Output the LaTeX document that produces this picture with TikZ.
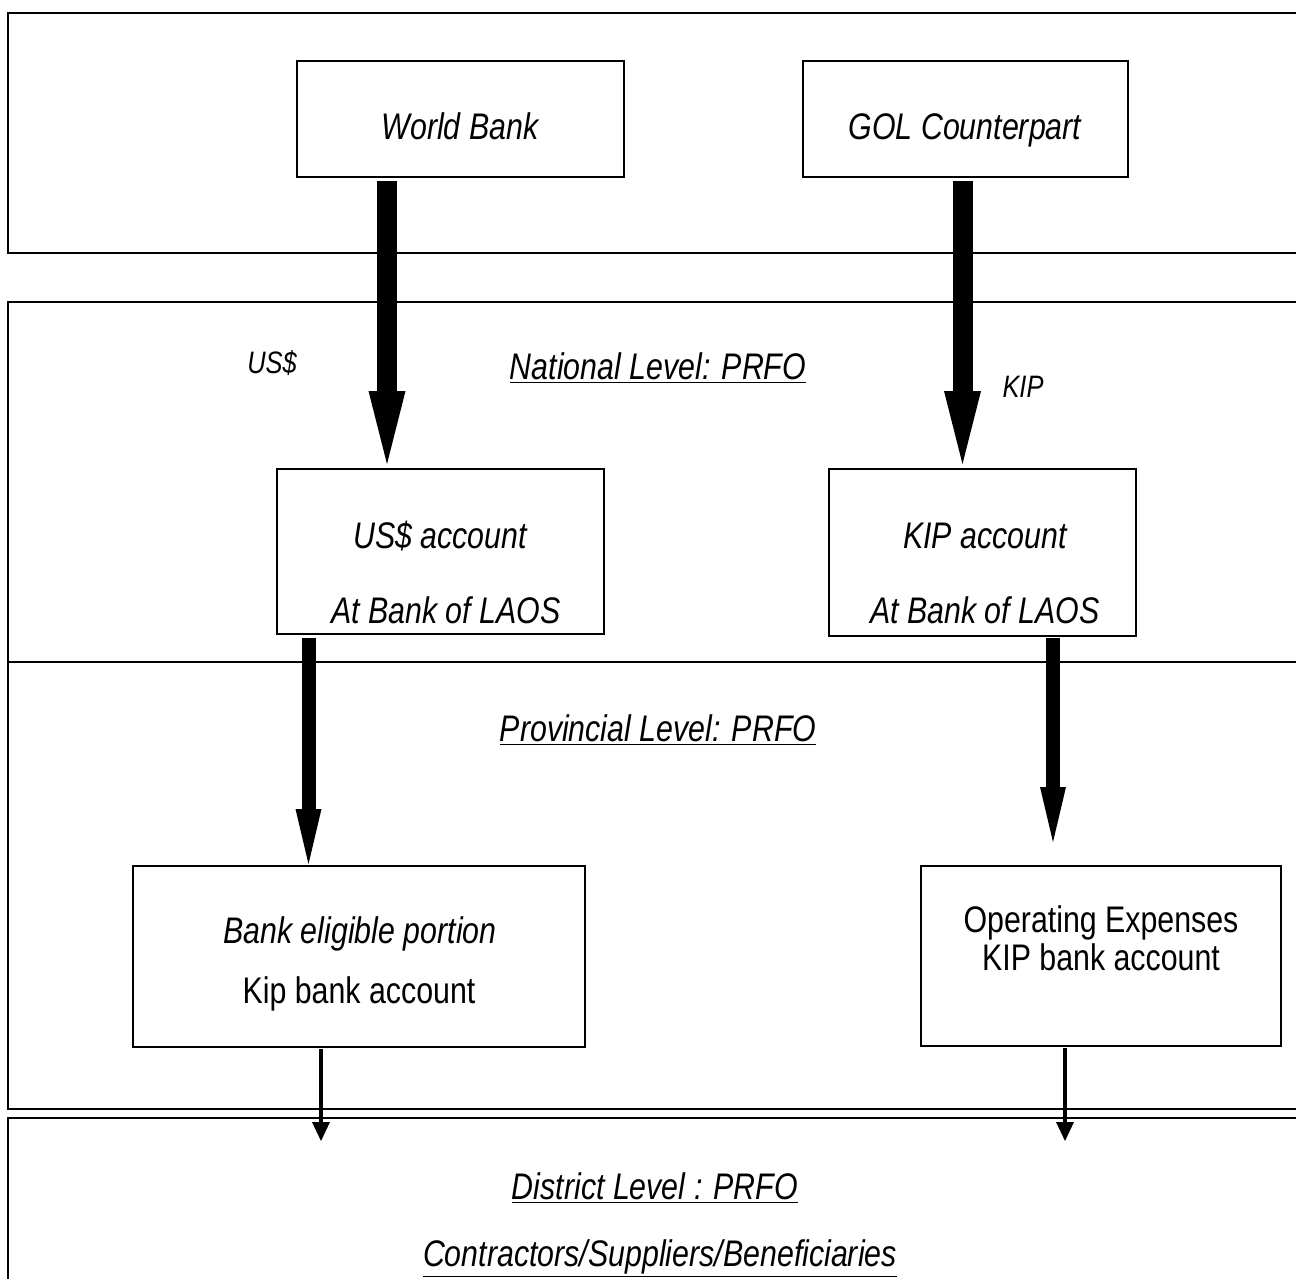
\documentclass[tikz,border=0pt]{standalone}
\usepackage{fontspec}
\setmainfont{Liberation Sans}[FakeStretch=0.82]
\usetikzlibrary{arrows.meta,calc}
\begin{document}
\begin{tikzpicture}[x=0.5pt,y=-0.5pt,
	frame/.style={draw=black, line width=1.3pt},
	acct/.style={draw=black, line width=1pt, rectangle, inner sep=0pt},
	lbl/.style={font=\fontsize{18.5}{21}\selectfont\itshape, anchor=base, inner sep=0pt},
	plain/.style={font=\fontsize{18.5}{21}\selectfont, anchor=base, inner sep=0pt},
	small/.style={font=\fontsize{15.5}{18}\selectfont\itshape, anchor=base, inner sep=0pt},
	bigflow/.style={line width=10pt, -{Triangle[length=36.5pt, width=18.5pt, line width=0pt]}},
	midflow/.style={line width=7pt, -{Triangle[length=27.5pt, width=13pt, line width=0pt]}},
	thinflow/.style={line width=2pt, -{Triangle[length=9.5pt, width=9pt, line width=0pt]}}]
		\useasboundingbox (0,0) rectangle (1296,1279);
		\clip (0,0) rectangle (1296,1279);
		% level frames
		\draw[frame] (8,13) rectangle (1320,253);
		\draw[frame] (8,302) rectangle (1320,1109);
		\draw[frame] (8,662) -- (1320,662);
		\draw[frame] (8,1118) rectangle (1320,1320);
		% boxes
		\node[acct, minimum width=163.5pt, minimum height=58pt] (wb) at (460.5,119){};
		\node[acct, minimum width=162.5pt, minimum height=58pt] (gol) at (965.5,119){};
		\node[acct, minimum width=163.5pt, minimum height=82.5pt] (usd) at (440.5,551.5){};
		\node[acct, minimum width=153.5pt, minimum height=83.5pt] (kip) at (982.5,552.5){};
		\node[acct, minimum width=226pt, minimum height=90.5pt] (elig) at (359,956.5){};
		\node[acct, minimum width=180pt, minimum height=90pt] (opex) at (1101,956){};
		% texts
		\node[lbl] (wbtxt) at (460,140){World Bank};
		\node[lbl] (goltxt) at (965,140){GOL Counterpart};
		\node[small] (usdtag) at (272,373){US\$};
		\node[small] (kiptag) at (1023,397){KIP};
		\node[lbl] (natl) at (658,379){\underline{National Level: PRFO}};
		\node[lbl] (usdtxt) at (440,548){US\$ account};
		\node[lbl] (usdbank) at (446,623){At Bank of LAOS};
		\node[lbl] (kiptxt) at (985,548){KIP account};
		\node[lbl] (kipbank) at (985,623){At Bank of LAOS};
		\node[lbl] (prov) at (658,741){\underline{Provincial Level: PRFO}};
		\node[lbl] (eligtxt) at (360,943){Bank eligible portion};
		\node[plain] (eligkip) at (359,1003){Kip bank account};
		\node[plain] (opextxt) at (1101,932){Operating Expenses};
		\node[plain] (opexkip) at (1101,970){KIP bank account};
		\node[lbl] (dist) at (655,1199){\underline{District Level : PRFO}};
		\node[lbl] (contr) at (660,1266){\underline{Contractors/Suppliers/Beneficiaries}};
		% flows
		\coordinate (dropl) at (321,1141);
		\coordinate (dropr) at (1065,1141);
		\draw[bigflow] ($(wb.south)+(-73.5,3)$) -- ($(usd.north)+(-53.5,-4)$);
		\draw[bigflow] ($(gol.south)+(-3,3)$) -- ($(kip.north)+(-20,-4)$);
		\draw[midflow] ($(usd.south)+(-132,3)$) -- ($(elig.north)+(-50.5,-1)$);
		\draw[midflow] ($(kip.south)+(70.5,1)$) -- ($(opex.north)+(-48,-23)$);
		\draw[thinflow] ($(elig.south)+(-38,1)$) -- (dropl);
		\draw[thinflow] ($(opex.south)+(-36,1)$) -- (dropr);
	\end{tikzpicture}
\end{document}
